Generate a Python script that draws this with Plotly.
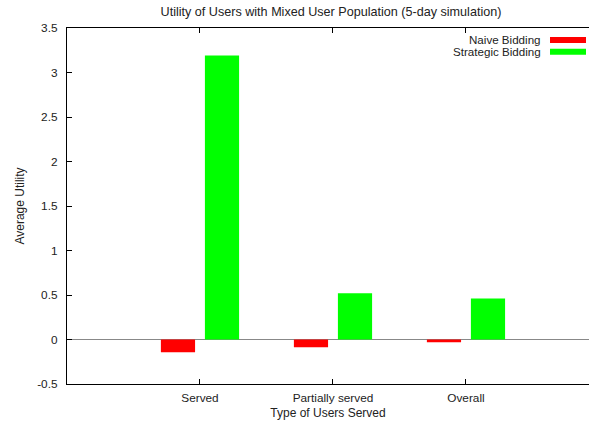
import plotly.graph_objects as go

categories = ["Served", "Partially served", "Overall"]
series_names = ["Naive Bidding", "Strategic Bidding"]
naive_values = [-0.143, -0.087, -0.03]
strategic_values = [3.19, 0.52, 0.46]
y_tick_values = [-0.5, 0, 0.5, 1, 1.5, 2, 2.5, 3, 3.5]
y_tick_labels = ["-0.5", "0", "0.5", "1", "1.5", "2", "2.5", "3", "3.5"]

colors = ["#ff0000", "#00ff00"]
FONT = "Liberation Sans, Arial, Helvetica, sans-serif"
TXT = "#222222"

W, H = 589, 425
ML, MR, MT, MB = 67, 0, 28, 41

fig = go.Figure()
for name, vals, col, off in zip(series_names, [naive_values, strategic_values], colors, [-0.294, 0.037]):
    fig.add_trace(go.Bar(
        x=categories, y=vals, name=name,
        marker=dict(color=col, line=dict(width=0)),
        width=0.257, offset=off, showlegend=False,
    ))

# custom gnuplot-style legend (text on the left, sample on the right)
pw = W - ML - MR
ph = H - MT - MB
for i, (name, col) in enumerate(zip(series_names, colors)):
    yc = 40 + i * 11.7
    ypaper = 1 - (yc - MT) / ph
    fig.add_annotation(
        x=(542 - ML) / pw, y=ypaper, xref="paper", yref="paper",
        text=name, showarrow=False, xanchor="right", yanchor="middle",
        borderpad=0,
        font=dict(family=FONT, size=11.6, color=TXT),
    )
    fig.add_shape(
        type="rect", xref="paper", yref="paper",
        x0=(550 - ML) / pw, x1=(586 - ML) / pw,
        y0=1 - (yc + 3 - MT) / ph, y1=1 - (yc - 3 - MT) / ph,
        fillcolor=col, line=dict(width=0),
    )

fig.update_layout(
    width=W, height=H,
    margin=dict(l=ML, r=MR, t=MT, b=MB, pad=0, autoexpand=False),
    paper_bgcolor="white", plot_bgcolor="white",
    barmode="overlay",
    font=dict(family=FONT, size=12, color=TXT),
    title=dict(
        text="Utility of Users with Mixed User Population (5-day simulation)",
        x=331 / W, xanchor="center", y=1 - 12 / H, yanchor="middle",
        font=dict(family=FONT, size=12.6, color=TXT),
    ),
    xaxis=dict(
        type="category", range=[-1, 2.925], automargin=False,
        showline=True, linecolor="black", linewidth=1.3, mirror="ticks",
        ticks="inside", ticklen=5, tickcolor="black", tickwidth=1,
        showgrid=False, zeroline=False,
        tickfont=dict(family=FONT, size=11.8, color=TXT),
        title=dict(text="Type of Users Served", standoff=4,
                   font=dict(family=FONT, size=12, color=TXT)),
        ticklabelstandoff=3,
    ),
    yaxis=dict(
        range=[-0.5, 3.5], automargin=False,
        tickvals=y_tick_values, ticktext=y_tick_labels,
        showline=True, linecolor="black", linewidth=1.3, mirror=False,
        ticks="inside", ticklen=5, tickcolor="black", tickwidth=1,
        showgrid=False,
        zeroline=True, zerolinecolor="#888888", zerolinewidth=1.2,
        tickfont=dict(family=FONT, size=11.8, color=TXT),
        title=dict(text="Average Utility", standoff=9,
                   font=dict(family=FONT, size=12, color=TXT)),
        ticklabelstandoff=6,
    ),
)

fig.write_html(
    "out.html",
    config={"displayModeBar": False},
    post_script="document.body.style.margin='0';document.body.style.padding='0';document.body.style.overflow='hidden';",
)
